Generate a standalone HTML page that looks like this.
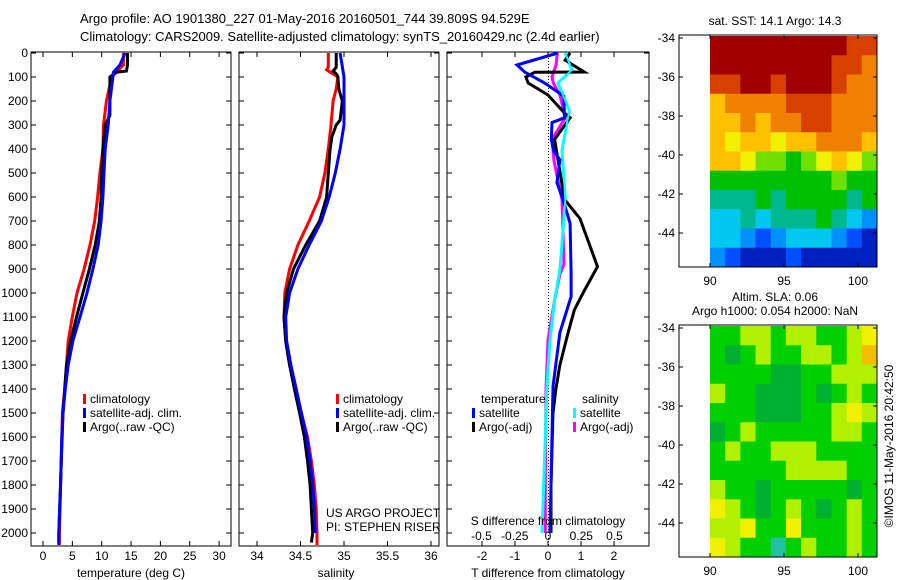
<!DOCTYPE html>
<html><head><meta charset="utf-8"><style>
body{margin:0;background:#fff}
svg{display:block;font-family:"Liberation Sans",sans-serif}
text{fill:#000;font-size:12px}
</style></head><body>
<svg id="c" width="900" height="580" viewBox="0 0 900 580">
<text x="80" y="23" style="font-size:13px">Argo profile: AO 1901380_227 01-May-2016 20160501_744 39.809S 94.529E</text>
<text x="80" y="41" style="font-size:13px">Climatology: CARS2009. Satellite-adjusted climatology: synTS_20160429.nc (2.4d earlier)</text>
</svg>
<script>
// ---- data ----
const tDepth=[0,50,80,100,200,300,400,500,600,700,800,900,1000,1100,1200,1300,1400,1500,1600,1800,2000,2050];
const tClim=[13.7,13.7,12.5,11.7,10.8,10.3,10.2,9.7,9.3,8.8,8.0,7.0,5.8,5.0,4.3,4.0,3.7,3.3,3.2,3.0,2.8,2.8];
const tSat=[14.0,13.1,12.0,11.9,11.4,11.1,10.6,10.4,10.2,9.9,9.4,8.5,7.5,6.3,5.1,4.3,3.8,3.4,3.2,3.0,2.7,2.7];
const tArgoDepth=[0,50,75,80,100,200,260,300,400,500,600,700,800,900,1000,1100,1200,1300,1500,2000,2040];
const tArgo=[14.4,14.4,14.2,12.5,11.4,11.4,11.4,10.6,10.2,10.0,9.9,9.6,8.9,7.9,6.8,5.7,4.7,4.0,3.4,2.7,2.7];
const sDepth=[0,60,70,100,150,200,300,400,500,600,700,800,900,1000,1100,1200,1300,1400,1500,1600,1700,1800,1900,2000,2050];
const sClim=[34.82,34.82,34.80,34.93,34.91,34.875,34.85,34.82,34.78,34.72,34.60,34.47,34.375,34.32,34.31,34.33,34.375,34.44,34.51,34.58,34.625,34.66,34.68,34.69,34.69];
const sArgoDepth=[0,60,75,90,100,150,200,280,300,350,400,500,600,700,800,900,1000,1100,1200,1300,1400,1500,1600,1700,1800,1900,2000,2040];
const sArgo=[34.91,34.91,34.875,34.92,34.93,34.94,34.98,34.955,34.91,34.86,34.84,34.82,34.80,34.72,34.56,34.42,34.34,34.31,34.33,34.375,34.43,34.49,34.545,34.58,34.61,34.625,34.64,34.625];
const sSatDepth=[0,100,200,300,400,500,600,700,800,900,1000,1100,1200,1300,1400,1500,1600,1700,1800,1900,2000];
const sSat=[34.955,35.0,35.0,35.0,34.955,34.90,34.83,34.74,34.60,34.47,34.375,34.33,34.34,34.39,34.45,34.51,34.57,34.61,34.64,34.66,34.67];
const dTSatDepth=[0,50,80,125,180,270,290,360,410,445,540,610,710,915,1015,1165,1390,1800,2000];
const dTSat=[0.3,-0.94,-0.7,-0.1,0.48,0.5,0.12,0.1,0.18,0.36,0.27,0.45,0.67,0.7,0.7,0.36,0.15,0.09,0.06];
const dTArgoDepth=[0,30,79,80,100,125,175,250,270,360,610,690,890,990,1070,1170,1300,1400,1500,1800,2000];
const dTArgo=[0.67,0.52,1.1,-0.4,-0.67,-0.6,0,0.5,0.67,0.2,0.5,0.97,1.5,1.1,0.8,0.6,0.36,0.24,0.15,0.09,0.09];
const dSSatDepth=[0,70,125,240,405,610,900,1030,1195,1400,1600,2000];
const dSSat=[0.13,0.18,0.075,0.16,0.105,0.13,0.09,0.05,0.015,-0.01,-0.02,-0.045];
const dSArgoDepth=[0,50,100,125,175,270,360,450,610,880,920,1030,1195,1400,1800,2000];
const dSArgo=[0.07,0.06,0.03,0.04,0.09,0.13,0.03,0.045,0.105,0.12,0.09,0.05,0,-0.015,-0.02,-0.02];
const depthTicks=[0,100,200,300,400,500,600,700,800,900,1000,1100,1200,1300,1400,1500,1600,1700,1800,1900,2000];
const tempTicks=[0,5,10,15,20,25,30];
const salTicks=[34,34.5,35,35.5,36];
const dTTicks=[-2,-1,0,1,2];
const dSTicks=[-0.5,-0.25,0,0.25,0.5];
const latTicks=[-34,-36,-38,-40,-42,-44];
const lonTicks=[90,95,100];
const sstGrid=[
[6,6,6,6,6,6,6,6,6,5.5,5.5],
[6,6,6,6,6,6,6,6,5.5,5.5,5],
[5.5,5.5,6,6,5.5,6,6,6,5.5,5,5],
[4.5,5,5,5,5,5.5,5.5,5.5,5,5,5],
[4.5,4.5,5,4.5,5,5,5.5,5.5,5,5,5],
[4.5,4,4.5,4.5,4,4.5,4.5,5,5,5,4.5],
[4.5,4.5,4,3.5,3.5,3,3.5,4,4.5,4,3.5],
[3,3,3,3,3,3,3,3,3.5,3,3],
[2.5,2.5,2.5,3,2.5,3,3,3,3,2.5,3],
[2,2,2.5,2,2.5,2.5,2.5,3,2.5,2,1.5],
[2,2,1.5,1,1.5,2,2,2,1.5,1,0.5],
[1.5,1,0.5,0.5,0.5,1,0.5,0.5,0.5,0.5,0.5]];
const slaGrid=[
[1,1,2,2,1,2,2,1,1,2,3],
[1,0.5,1,2,1,1,2,2,1,2,3.5],
[1,1,1,1,0.5,0.5,1,1,2,2,2],
[2,1,1,0.5,0.5,0.5,1,0.5,1,2,1],
[1,1,1,0.5,0.5,0.5,1,1,2,3,2],
[0.5,1,2,1,1,1,1,1,2,2,1],
[1,2,1,1,2,2,2,1,1,1,1],
[1,1,1,1,1,2,2,2,2,1,1],
[2,1,1,0.5,1,1,1,1,1,0.5,1],
[3,2,1,0.5,1,2,1,0.5,1,2,1],
[2,2,3,1,1,3,1,1,1,2,1],
[3,2,1,1,0.2,1,2,1,1,2,1]];

// ---- drawing ----
const svg=document.getElementById('c');
const NS='http://www.w3.org/2000/svg';
function mk(tag,attrs,parent){const e=document.createElementNS(NS,tag);for(const k in attrs)e.setAttribute(k,attrs[k]);(parent||svg).appendChild(e);return e;}
function txt(x,y,s,anchor,size){const e=mk('text',{x:x,y:y,'text-anchor':anchor||'start'});if(size)e.style.fontSize=size+'px';e.textContent=s;return e;}
const yD=d=>53+0.24*d;
const TOP=52,BOT=546;

function frame(x0,x1,name){
  const r=mk('rect',{x:x0,y:TOP,width:x1-x0,height:BOT-TOP,fill:'none',stroke:'#000','stroke-width':1});
  
  
  depthTicks.forEach(d=>{mk('line',{x1:x0,x2:x0+5,y1:yD(d),y2:yD(d),stroke:'#000'});mk('line',{x1:x1,x2:x1-5,y1:yD(d),y2:yD(d),stroke:'#000'});});
}
function xticks(x0,x1,ticks,fx,ly,name,top){
  ticks.forEach(v=>{const x=fx(v);mk('line',{x1:x,x2:x,y1:BOT,y2:BOT-5,stroke:'#000'});if(top!==false)mk('line',{x1:x,x2:x,y1:TOP,y2:TOP+5,stroke:'#000'});
    const t=txt(x,ly,String(v),'middle');
    
    });
}
function line(xs,ds,fx,color,name,w){
  const pts=xs.map((v,i)=>fx(v).toFixed(1)+','+yD(ds[i]).toFixed(1)).join(' ');
  const p=mk('polyline',{points:pts,fill:'none',stroke:color,'stroke-width':w||3,'stroke-linejoin':'miter'});
  
  
}
function legend(x,y,color,label,name){
  const r=mk('rect',{x:x,y:y-9,width:3,height:10,fill:color});
  
  
  const t=txt(x+7,y,label);
  
  
}

// y tick labels
depthTicks.forEach(d=>{const t=txt(28,yD(d)+4,String(d),'end');
  
  });

// Panel 1
const fT=v=>43+5.87*v;
frame(31,231,'temperature-panel');
xticks(31,231,tempTicks,fT,560,'temperature-tick-label');
line(tClim,tDepth,fT,'#f00','temperature-climatology-line');
line(tArgo,tArgoDepth,fT,'#000','temperature-argo-line');
line(tSat,tDepth,fT,'#00f','temperature-satellite-line');
let a=txt(131,577,'temperature (deg C)','middle');
legend(83,403,'#f00','climatology','legend-climatology-1');
legend(83,417,'#00f','satellite-adj. clim.','legend-satellite-1');
legend(83,431,'#000','Argo(..raw -QC)','legend-argo-1');

// Panel 2
const fS=v=>257+87*(v-34);
frame(239,439,'salinity-panel');
xticks(239,439,salTicks,fS,560,'salinity-tick-label');
line(sClim,sDepth,fS,'#f00','salinity-climatology-line');
line(sArgo,sArgoDepth,fS,'#000','salinity-argo-line');
line(sSat,sSatDepth,fS,'#00f','salinity-satellite-line');
a=txt(336,577,'salinity','middle');
legend(336,403,'#f00','climatology','legend-climatology-2');
legend(336,417,'#00f','satellite-adj. clim.','legend-satellite-2');
legend(336,431,'#000','Argo(..raw -QC)','legend-argo-2');
a=txt(326,517,'US ARGO PROJECT');
a=txt(326,531,'PI: STEPHEN RISER');

// Panel 3
const fdT=v=>548+33*v;
const fdS=v=>548+133*v;
frame(447,649,'difference-panel');
xticks(447,649,dTTicks,fdT,560,'t-diff-tick-label');
mk('line',{x1:548.5,x2:548.5,y1:TOP,y2:BOT,stroke:'#000','stroke-dasharray':'1,2'});
line(dSArgo,dSArgoDepth,fdS,'#f0f','s-diff-argo-line');
line(dSSat,dSSatDepth,fdS,'#0ff','s-diff-satellite-line');
line(dTArgo,dTArgoDepth,fdT,'#000','t-diff-argo-line');
line(dTSat,dTSatDepth,fdT,'#00f','t-diff-satellite-line');
line(dSSat,dSSatDepth,fdS,'#0ff','s-diff-satellite-line-top',2);
dSTicks.forEach(v=>{const t=txt(fdS(v),540,String(v),'middle');
  
  });
a=txt(548,525,'S difference from climatology','middle');
a=txt(548,577,'T difference from climatology','middle');
a=txt(481,403,'temperature');
a=txt(582,403,'salinity');
legend(472,417,'#00f','satellite','legend-t-satellite');
legend(472,431,'#000','Argo(-adj)','legend-t-argo');
legend(573,417,'#0ff','satellite','legend-s-satellite');
legend(573,431,'#f0f','Argo(-adj)','legend-s-argo');

// Maps
const sstColors=[[0,'#000080'],[0.5,'#0020c0'],[1,'#0050ff'],[1.5,'#0090ff'],[2,'#00c8f0'],[2.5,'#00b890'],[3,'#00c000'],[3.5,'#70e000'],[4,'#f0f000'],[4.5,'#ffc000'],[5,'#f08000'],[5.5,'#d84000'],[6,'#a00000']];
const slaColors=[[0.2,'#20c0a0'],[0.5,'#00b030'],[1,'#00d000'],[2,'#b0f000'],[3,'#f0f000'],[3.5,'#f0c000']];
function col(v,scale){let best=scale[0];scale.forEach(s=>{if(Math.abs(s[0]-v)<Math.abs(best[0]-v))best=s;});return best[1];}
function map(top,grid,scale,name,t1,t2){
  const L=679,R=877,B=top+232;
  const fLon=v=>710+14.8*(v-90);
  const fLat=v=>top+3+19.5*(-34-v);
  const rows=grid.length,cols=grid[0].length;
  const cw=(R-710)/cols,ch=(B-(top+1))/rows;
  grid.forEach((row,i)=>row.forEach((v,j)=>{
    const c=mk('rect',{x:(710+j*cw).toFixed(2),y:(top+1+i*ch).toFixed(2),width:(cw+0.5).toFixed(2),height:(ch+0.5).toFixed(2),fill:col(v,scale)});
    
    
  }));
  const r=mk('rect',{x:L,y:top,width:R-L,height:B-top,fill:'none',stroke:'#000'});
  
  
  latTicks.forEach(v=>{const y=fLat(v);mk('line',{x1:L,x2:L+4,y1:y,y2:y,stroke:'#000'});mk('line',{x1:R,x2:R-4,y1:y,y2:y,stroke:'#000'});
    const t=txt(675,y+4,String(v),'end');
    
    });
  lonTicks.forEach(v=>{const x=fLon(v);mk('line',{x1:x,x2:x,y1:B,y2:B-4,stroke:'#000'});mk('line',{x1:x,x2:x,y1:top,y2:top+4,stroke:'#000'});
    const t=txt(x,B+18,String(v),'middle');
    
    });
}
map(35,sstGrid,sstColors,'sst-map');
map(325,slaGrid,slaColors,'sla-map');
a=txt(775,25,'sat. SST: 14.1 Argo: 14.3','middle');
a=txt(775,301,'Altim. SLA: 0.06','middle');
a=txt(775,315,'Argo h1000: 0.054 h2000: NaN','middle');
a=txt(0,0,'©IMOS 11-May-2016 20:42:50','middle');a.setAttribute('transform','translate(893,446) rotate(-90)');
</script>
</body></html>
